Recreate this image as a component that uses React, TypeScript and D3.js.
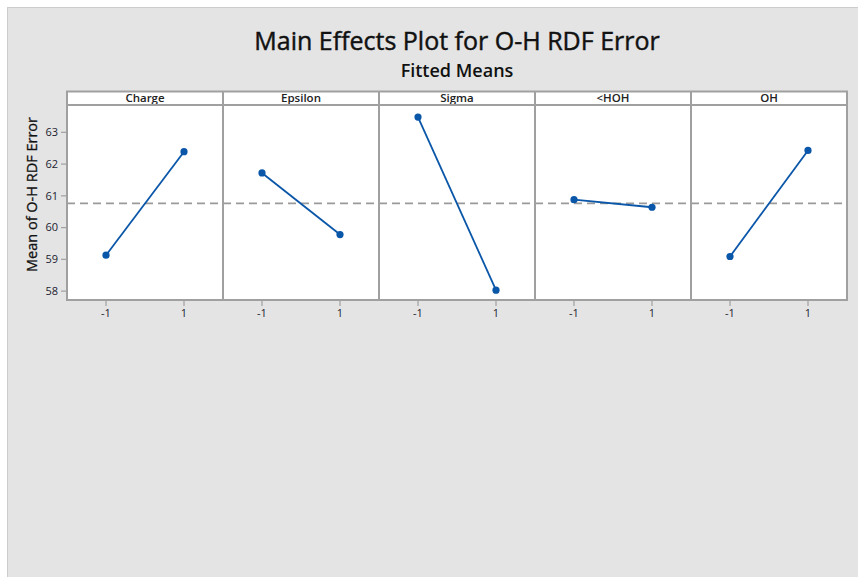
import React from "react";
import * as d3 from "d3";

const factors = ["Charge", "Epsilon", "Sigma", "<HOH", "OH"];
const levels = [-1, 1];
const lowMeans = [59.13, 61.72, 63.48, 60.88, 59.09];
const highMeans = [62.39, 59.78, 58.03, 60.64, 62.43];
const yTicks = [58, 59, 60, 61, 62, 63];
const overallMean = 60.76;

const W = 858;
const H = 577;
const panelLeft = 67;
const panelW = 156;
const panelTop = 105;
const panelBottom = 300;
const stripTop = 91.5;

const FONT = "'Open Sans', 'Noto Sans', sans-serif";

export default function App() {
  const y = d3.scaleLinear().domain([57.72, 63.86]).range([panelBottom, panelTop]);
  const x = d3.scaleLinear().domain([-2, 2]).range([0, panelW]);
  const line = d3
    .line<[number, number]>()
    .x((d) => x(d[0]))
    .y((d) => y(d[1]));
  const blue = "#0a56a8";
  const border = "#a0a0a0";
  const totalRight = panelLeft + panelW * factors.length;

  return (
    <div style={{ position: "absolute", left: 0, top: 0 }}>
      <svg width={W} height={H} style={{ display: "block", background: "#fff" }}>
        <rect x={7} y={7} width={W - 7} height={H - 7} fill="#e4e4e4" />
        <line x1={7} y1={7.5} x2={W} y2={7.5} stroke="#cdcdcd" />
        <line x1={7.5} y1={7} x2={7.5} y2={H} stroke="#cdcdcd" />

        <text
          x={457}
          y={50}
          textAnchor="middle"
          fontFamily={FONT}
          fontSize={25}
          fill="#111"
          stroke="#111"
          strokeWidth={0.45}
        >
          Main Effects Plot for O-H RDF Error
        </text>
        <text x={457} y={77} textAnchor="middle" fontFamily={FONT} fontSize={18} fontWeight={600} fill="#111">
          Fitted Means
        </text>

        <text
          transform={`translate(37, ${(panelTop + panelBottom) / 2 - 8}) rotate(-90)`}
          textAnchor="middle"
          fontFamily={FONT}
          fontSize={14.5}
          fill="#111"
          stroke="#111"
          strokeWidth={0.3}
        >
          Mean of O-H RDF Error
        </text>

        {/* y axis ticks */}
        {yTicks.map((t) => (
          <g key={t}>
            <line x1={panelLeft - 6} x2={panelLeft} y1={y(t)} y2={y(t)} stroke={border} strokeWidth={1.2} />
            <text x={panelLeft - 9} y={y(t)} dy="0.35em" textAnchor="end" fontFamily={FONT} fontSize={11} fill="#1c1c30">
              {t}
            </text>
          </g>
        ))}

        {factors.map((f, i) => {
          const x0 = panelLeft + i * panelW;
          const pts: [number, number][] = [
            [levels[0], lowMeans[i]],
            [levels[1], highMeans[i]],
          ];
          return (
            <g key={f}>
              <rect x={x0} y={panelTop} width={panelW} height={panelBottom - panelTop} fill="#fff" />
              <rect x={x0} y={stripTop} width={panelW} height={panelTop - stripTop} fill="#fff" />
              <text
                x={x0 + panelW / 2}
                y={(stripTop + panelTop) / 2}
                dy="0.36em"
                textAnchor="middle"
                fontFamily={FONT}
                fontSize={11.5}
                fontWeight={600}
                fill="#222"
              >
                {f}
              </text>
              <g transform={`translate(${x0},0)`}>
                <line
                  x1={0}
                  x2={panelW}
                  y1={y(overallMean)}
                  y2={y(overallMean)}
                  stroke="#9a9a9a"
                  strokeWidth={1.8}
                  strokeDasharray="8,5"
                />
                <path d={line(pts) || ""} fill="none" stroke={blue} strokeWidth={1.8} />
                {pts.map((p, j) => (
                  <circle key={j} cx={x(p[0])} cy={y(p[1])} r={3.6} fill={blue} />
                ))}
                {levels.map((l) => (
                  <g key={l}>
                    <line x1={x(l)} x2={x(l)} y1={panelBottom} y2={panelBottom + 6} stroke={border} strokeWidth={1.2} />
                    <text x={x(l)} y={panelBottom + 13} dy="0.35em" textAnchor="middle" fontFamily={FONT} fontSize={11} fill="#1c1c30">
                      {l}
                    </text>
                  </g>
                ))}
              </g>
            </g>
          );
        })}

        {/* borders */}
        <rect
          x={panelLeft}
          y={stripTop}
          width={totalRight - panelLeft}
          height={panelBottom - stripTop}
          fill="none"
          stroke={border}
          strokeWidth={2}
        />
        <line x1={panelLeft} x2={totalRight} y1={panelTop} y2={panelTop} stroke={border} strokeWidth={2} />
        {factors.slice(1).map((f, i) => (
          <line
            key={f}
            x1={panelLeft + (i + 1) * panelW}
            x2={panelLeft + (i + 1) * panelW}
            y1={stripTop}
            y2={panelBottom}
            stroke={border}
            strokeWidth={2}
          />
        ))}
      </svg>
    </div>
  );
}
